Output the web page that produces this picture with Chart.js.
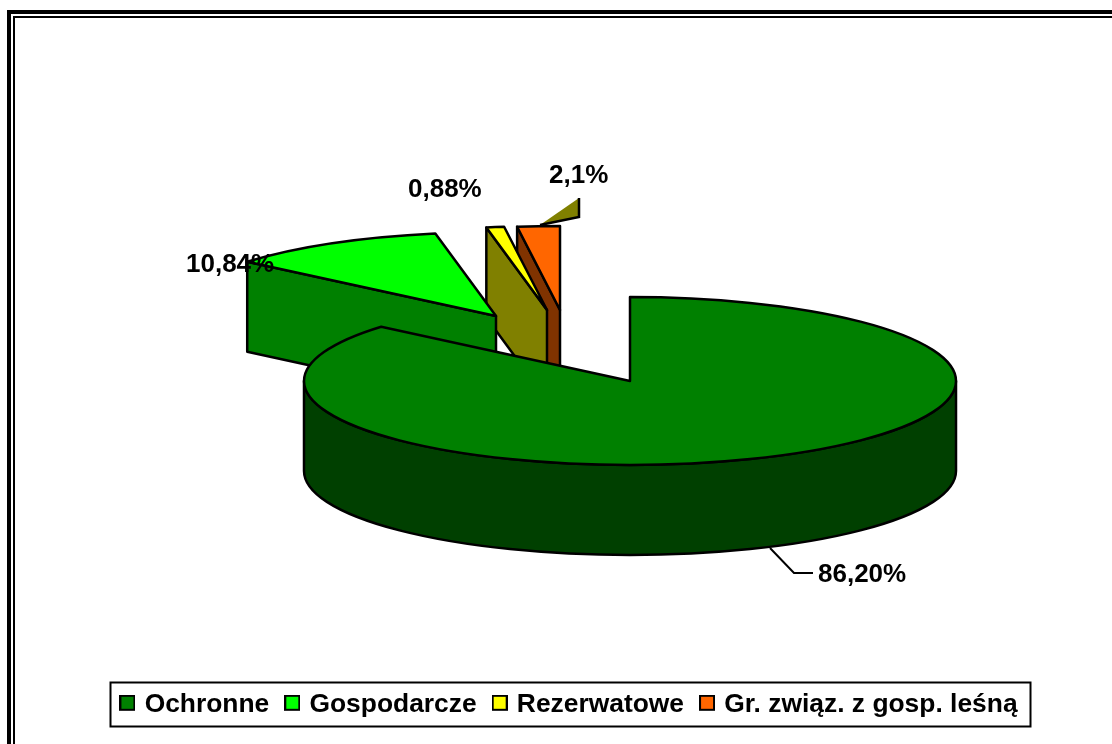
<!DOCTYPE html>
<html>
<head>
<meta charset="utf-8">
<title>Lasy</title>
<script src="https://cdn.jsdelivr.net/npm/chart.js@4/dist/chart.umd.min.js"></script>
<style>
  html, body { margin: 0; background: #fff; overflow: hidden; }
  canvas { display: block; }
</style>
</head>
<body>
<canvas id="pie" width="1112" height="744"></canvas>
<script>
const categories = ['Ochronne', 'Gospodarcze', 'Rezerwatowe', 'Gr. związ. z gosp. leśną'];
const shares = [86.20, 10.84, 0.88, 2.1];
const shareLabels = ['86,20%', '10,84%', '0,88%', '2,1%'];
const topColors = ['#008000', '#00ff00', '#ffff00', '#ff6600'];
const sideColors = ['#004000', '#008000', '#808000', '#803300'];

// how far each slice is pulled out of the pie, in px
const explode = [[0, 0], [-134, -65], [-83, -71], [-70, -71]];
const labelSpots = [[818, 582], [186, 272], [408, 197], [549, 183]];

const CENTER_X = 630;
const CENTER_Y = 381;
const RADIUS = 326;
const SQUASH = 84 / 326;
const DEPTH = 90;
const FONT = 'bold 26px "Liberation Sans", Arial, sans-serif';

const swatch = (color) => {
  // transparent strip below lifts the square to the text's middle
  const c = document.createElement('canvas');
  c.width = 16;
  c.height = 20;
  const g = c.getContext('2d');
  g.fillStyle = '#000';
  g.fillRect(0, 0, 16, 16);
  g.fillStyle = color;
  g.fillRect(2, 2, 12, 12);
  return c;
};

const outerPoint = (cx, cy, r, angle) => [cx + r * Math.cos(angle), cy + r * SQUASH * Math.sin(angle)];

const paintSlice = (ctx, el, i) => {
  const cx = CENTER_X + explode[i][0];
  const cy = CENTER_Y + explode[i][1];
  const r = el.outerRadius;
  const start = el.startAngle;
  const end = el.endAngle;

  ctx.strokeStyle = '#000';
  ctx.lineWidth = 2.5;
  ctx.lineJoin = 'round';

  // cut face turned towards the viewer
  if (Math.cos(start) < -0.001 && Math.sin(start) < 0 && i > 0) {
    const p = outerPoint(cx, cy, r, start);
    ctx.beginPath();
    ctx.moveTo(p[0], p[1]);
    ctx.lineTo(cx, cy);
    ctx.lineTo(cx, cy + DEPTH);
    ctx.lineTo(p[0], p[1] + DEPTH);
    ctx.closePath();
    ctx.fillStyle = sideColors[i];
    ctx.fill();
    ctx.stroke();
  }

  // front wall, only the part of the rim between 0 and PI shows
  const a = Math.max(start, 0);
  const b = Math.min(end, Math.PI);
  if (b > a) {
    ctx.beginPath();
    ctx.ellipse(cx, cy, r, r * SQUASH, 0, a, b);
    ctx.ellipse(cx, cy + DEPTH, r, r * SQUASH, 0, b, a, true);
    ctx.closePath();
    ctx.fillStyle = sideColors[i];
    ctx.fill();
    ctx.stroke();
  }

  // top face comes from the arc element itself
  ctx.save();
  ctx.translate(cx, cy);
  ctx.scale(1, SQUASH);
  ctx.translate(-el.x, -el.y);
  el.draw(ctx);
  ctx.restore();

  ctx.beginPath();
  ctx.moveTo(cx, cy);
  ctx.ellipse(cx, cy, r, r * SQUASH, 0, start, end);
  ctx.closePath();
  ctx.stroke();
};

const pie3d = {
  id: 'pie3d',
  beforeDraw(chart) {
    const ctx = chart.ctx;
    ctx.save();
    ctx.fillStyle = '#fff';
    ctx.fillRect(0, 0, chart.width, chart.height);
    // double page frame, runs off the right and bottom edges
    ctx.fillStyle = '#000';
    ctx.fillRect(7, 10, chart.width - 7, 4);
    ctx.fillRect(7, 10, 4, chart.height - 10);
    ctx.fillRect(13, 16, chart.width - 13, 2);
    ctx.fillRect(13, 16, 2, chart.height - 16);
    // legend box
    ctx.strokeStyle = '#000';
    ctx.lineWidth = 2;
    ctx.strokeRect(110.5, 682.5, 920, 44);
    ctx.restore();
  },
  beforeDatasetDraw(chart, args) {
    const ctx = chart.ctx;
    const arcs = args.meta.data;
    ctx.save();
    for (let i = arcs.length - 1; i >= 0; i--) {
      paintSlice(ctx, arcs[i], i);
    }
    ctx.restore();
    return false;
  },
  afterDatasetsDraw(chart) {
    const ctx = chart.ctx;
    ctx.save();

    // leader of the big slice
    ctx.strokeStyle = '#000';
    ctx.lineWidth = 2;
    ctx.beginPath();
    ctx.moveTo(770, 548);
    ctx.lineTo(794, 573);
    ctx.lineTo(813, 573);
    ctx.stroke();

    // filled leader next to 2,1%
    ctx.beginPath();
    ctx.moveTo(540, 225);
    ctx.lineTo(579, 198);
    ctx.lineTo(579, 217);
    ctx.closePath();
    ctx.fillStyle = '#808000';
    ctx.fill();
    ctx.lineWidth = 2.5;
    ctx.beginPath();
    ctx.moveTo(579, 198);
    ctx.lineTo(579, 217);
    ctx.lineTo(540, 225);
    ctx.stroke();

    ctx.fillStyle = '#000';
    ctx.font = FONT;
    ctx.textAlign = 'left';
    ctx.textBaseline = 'alphabetic';
    shareLabels.forEach((text, i) => {
      ctx.fillText(text, labelSpots[i][0], labelSpots[i][1]);
    });
    ctx.restore();
  }
};

new Chart(document.querySelector('#pie'), {
  type: 'pie',
  data: {
    labels: categories,
    datasets: [{
      data: shares,
      backgroundColor: topColors,
      borderWidth: 0,
      radius: RADIUS
    }]
  },
  options: {
    responsive: false,
    animation: false,
    layout: { padding: { left: 29, bottom: 16 } },
    plugins: {
      tooltip: { enabled: false },
      legend: {
        position: 'bottom',
        labels: {
          color: '#000',
          font: { family: '"Liberation Sans", Arial, sans-serif', size: 26.4, weight: 'bold' },
          usePointStyle: true,
          pointStyleWidth: 8,
          padding: 19,
          generateLabels: () => categories.map((text, i) => ({
            text,
            index: i,
            pointStyle: swatch(topColors[i]),
            fontColor: '#000',
            lineWidth: 0,
            hidden: false
          }))
        }
      }
    }
  },
  plugins: [pie3d]
});
</script>
</body>
</html>
